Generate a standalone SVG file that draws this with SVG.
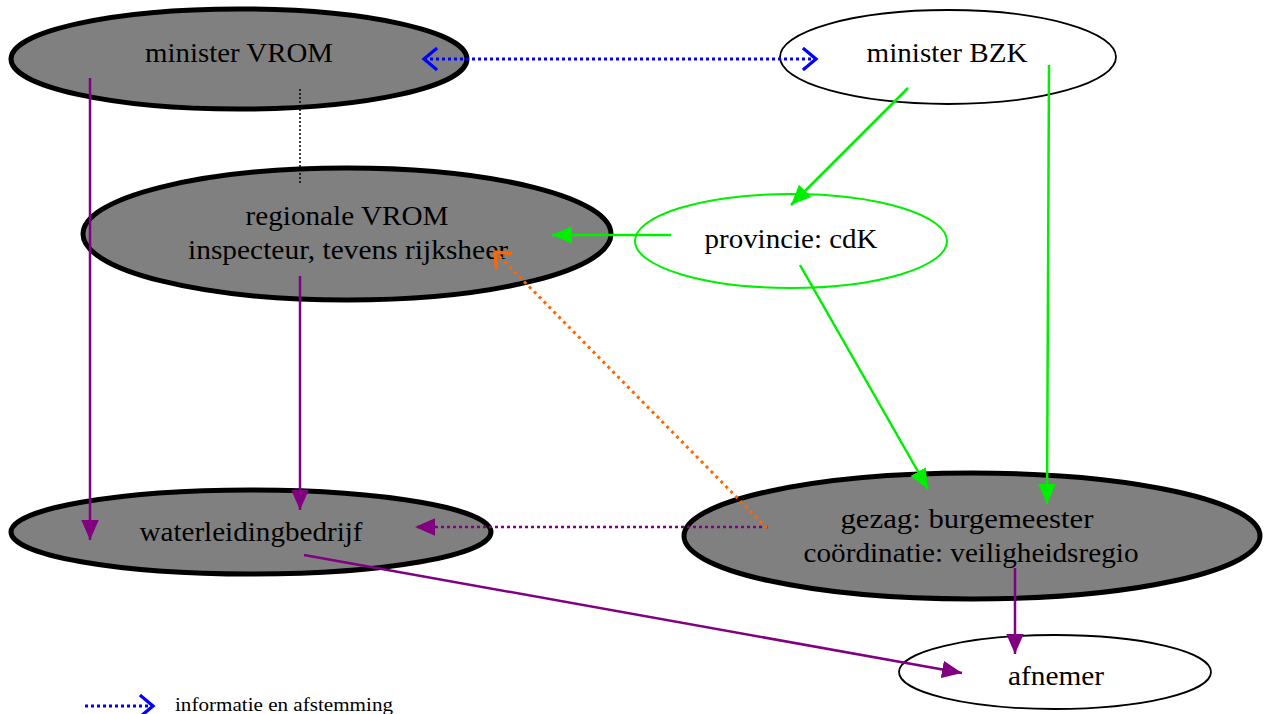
<svg xmlns="http://www.w3.org/2000/svg" width="1268" height="714" viewBox="0 0 1268 714">
<style>
.t{font-family:"Liberation Serif","Times New Roman",serif;font-size:28px;fill:#000;text-anchor:middle}
.heavy{fill:#808080;stroke:#000;stroke-width:5}
.light{fill:#fff;stroke:#000;stroke-width:1.8}
.pur{stroke:#800080;stroke-width:2.5;fill:none}
.grn{stroke:#00ee00;stroke-width:2.5;fill:none}
</style>
<defs>
<marker id="ap" markerUnits="userSpaceOnUse" markerWidth="20" markerHeight="20" refX="16" refY="8" orient="auto" viewBox="0 0 16 16"><path d="M0,1 L16,8 L0,15 Z" fill="#800080"/></marker>
<marker id="ag" markerUnits="userSpaceOnUse" markerWidth="20" markerHeight="20" refX="16" refY="8" orient="auto" viewBox="0 0 16 16"><path d="M0,1 L16,8 L0,15 Z" fill="#00ee00"/></marker>
<marker id="ab" markerUnits="userSpaceOnUse" markerWidth="20" markerHeight="24" refX="14" refY="11" orient="auto" viewBox="0 0 16 22"><path d="M2,1 L14,11 L2,21" fill="none" stroke="#0000ff" stroke-width="3"/></marker>
<marker id="abs" markerUnits="userSpaceOnUse" markerWidth="20" markerHeight="24" refX="2" refY="11" orient="auto" viewBox="0 0 16 22"><path d="M14,1 L2,11 L14,21" fill="none" stroke="#0000ff" stroke-width="3"/></marker>
<marker id="ao" markerUnits="userSpaceOnUse" markerWidth="20" markerHeight="24" refX="14" refY="11" orient="auto" viewBox="0 0 16 22"><path d="M2,1 L14,11 L2,21" fill="none" stroke="#ff6600" stroke-width="3"/></marker>
</defs>
<g id="n-minister-vrom"><ellipse class="heavy" cx="239" cy="59" rx="228" ry="50"/><text class="t" x="239" y="62" textLength="188" lengthAdjust="spacingAndGlyphs">minister VROM</text></g>
<g id="n-minister-bzk"><ellipse class="light" cx="948" cy="57" rx="168" ry="47"/><text class="t" x="947" y="62" textLength="161" lengthAdjust="spacingAndGlyphs">minister BZK</text></g>
<g id="n-regionale"><ellipse class="heavy" cx="347" cy="234" rx="264" ry="66"/><text class="t" x="347" y="225" textLength="203" lengthAdjust="spacingAndGlyphs">regionale VROM</text><text class="t" x="348" y="259" textLength="320" lengthAdjust="spacingAndGlyphs">inspecteur, tevens rijksheer</text></g>
<g id="n-provincie"><ellipse fill="#fff" stroke="#00ee00" stroke-width="2" cx="791" cy="241" rx="156" ry="47"/><text class="t" x="791" y="248" textLength="173" lengthAdjust="spacingAndGlyphs">provincie: cdK</text></g>
<g id="n-waterleiding"><ellipse class="heavy" cx="251" cy="532" rx="240" ry="42"/><text class="t" x="251" y="541" textLength="223" lengthAdjust="spacingAndGlyphs">waterleidingbedrijf</text></g>
<g id="n-gezag"><ellipse class="heavy" cx="972" cy="536" rx="288" ry="63"/><text class="t" x="967" y="528" textLength="253" lengthAdjust="spacingAndGlyphs">gezag: burgemeester</text><text class="t" x="971" y="562" textLength="335" lengthAdjust="spacingAndGlyphs">coördinatie: veiligheidsregio</text></g>
<g id="n-afnemer"><ellipse class="light" cx="1055" cy="672" rx="156" ry="37"/><text class="t" x="1056" y="685" textLength="96" lengthAdjust="spacingAndGlyphs">afnemer</text></g>
<g id="connectors">
<line x1="424" y1="59" x2="816" y2="59" stroke="#0000ff" stroke-width="3" stroke-dasharray="3,3" marker-start="url(#abs)" marker-end="url(#ab)"/>
<line x1="300" y1="89" x2="300" y2="184" stroke="#000" stroke-width="1.5" stroke-dasharray="2,2"/>
<line class="pur" x1="90" y1="78" x2="90" y2="540" marker-end="url(#ap)"/>
<line class="pur" x1="300" y1="276" x2="300" y2="510" marker-end="url(#ap)"/>
<line class="pur" x1="768" y1="527" x2="415" y2="527" stroke-dasharray="3,3" marker-end="url(#ap)"/>
<line class="pur" x1="304" y1="555" x2="962" y2="673" marker-end="url(#ap)"/>
<line class="pur" x1="1015" y1="568" x2="1015" y2="654" marker-end="url(#ap)"/>
<line x1="767" y1="528" x2="495" y2="252" stroke="#ff6600" stroke-width="3" stroke-dasharray="3,4" marker-end="url(#ao)"/>
<line class="grn" x1="908" y1="88" x2="791" y2="205" marker-end="url(#ag)"/>
<line class="grn" x1="1049" y1="65" x2="1047" y2="504" marker-end="url(#ag)"/>
<line class="grn" x1="671" y1="235" x2="552" y2="235" marker-end="url(#ag)"/>
<line class="grn" x1="800" y1="265" x2="928" y2="489" marker-end="url(#ag)"/>
</g>
<g id="legend">
<line x1="85" y1="706" x2="153" y2="706" stroke="#0000ff" stroke-width="3" stroke-dasharray="3,3" marker-end="url(#ab)"/>
<text x="175" y="711" font-family="Liberation Serif, Times New Roman, serif" font-size="19" textLength="218" lengthAdjust="spacingAndGlyphs">informatie en afstemming</text>
</g>
</svg>
